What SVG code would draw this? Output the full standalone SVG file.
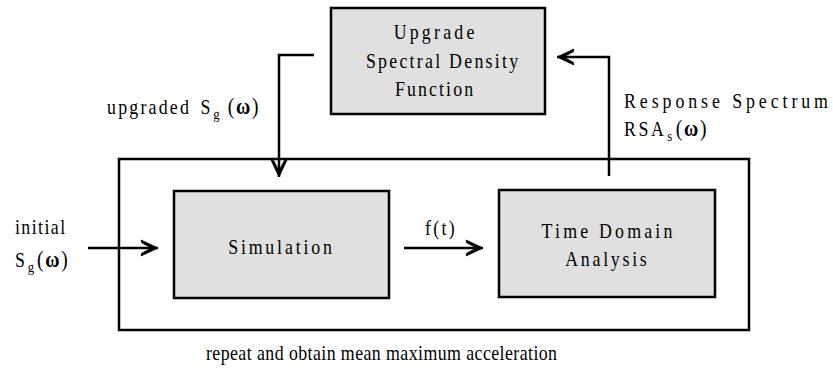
<svg xmlns="http://www.w3.org/2000/svg" width="833" height="371" viewBox="0 0 833 371">
<style>
  text { font-family: "Liberation Serif", "Times New Roman", serif; font-size: 21px; fill: #000; }
  .box { fill: #e0e0e0; stroke: #000; stroke-width: 2.5; }
  .frame { fill: none; stroke: #000; stroke-width: 2.5; }
  .conn { fill: none; stroke: #000; stroke-width: 2.5; }
  .sub { font-size: 15px; }
  .om { font-size: 23px; }
  .w { font-weight: bold; }
</style>
<defs>
  <marker id="arr" markerUnits="userSpaceOnUse" markerWidth="20" markerHeight="20" viewBox="-17 -9 19 18" refX="0" refY="0" orient="auto">
    <path d="M0,0 L-16,-7.5 L-15.5,-5 L-6,0 L-15.5,5 L-16,7.5 Z" fill="#000" stroke="#000" stroke-width="0.8" stroke-linejoin="miter"/>
  </marker>
</defs>
<rect id="loop" class="frame" x="119" y="159" width="630" height="171"/>
<g id="upgrade">
  <rect class="box" x="331" y="8" width="214" height="106"/>
  <text transform="translate(434,39) scale(0.85,1)" text-anchor="middle" textLength="95">Upgrade</text>
  <text transform="translate(442,68) scale(0.85,1)" text-anchor="middle" textLength="179">Spectral Density</text>
  <text transform="translate(434,96) scale(0.85,1)" text-anchor="middle" textLength="92">Function</text>
</g>
<g id="simulation">
  <rect class="box" x="174" y="191" width="215" height="107"/>
  <text transform="translate(280,254) scale(0.85,1)" text-anchor="middle" textLength="122">Simulation</text>
</g>
<g id="timedomain">
  <rect class="box" x="499" y="190" width="216" height="107"/>
  <text transform="translate(607,238) scale(0.85,1)" text-anchor="middle" textLength="154">Time Domain</text>
  <text transform="translate(606,266) scale(0.85,1)" text-anchor="middle" textLength="96">Analysis</text>
</g>
<g id="connectors">
  <path class="conn" d="M314,55 H279 V177" marker-end="url(#arr)"/>
  <path class="conn" d="M609,176 V57 H557" marker-end="url(#arr)"/>
  <path class="conn" d="M88,248 H158" marker-end="url(#arr)"/>
  <path class="conn" d="M404,248 H483" marker-end="url(#arr)"/>
</g>
<g id="labels">
  <text transform="translate(107,114) scale(0.85,1)"><tspan x="0" letter-spacing="2.6">upgraded</tspan><tspan x="110">S</tspan><tspan class="sub" x="125" dy="5">g</tspan><tspan class="om" x="142" dy="-5" letter-spacing="2">(<tspan class="w">ω</tspan>)</tspan></text>
  <text transform="translate(624,108) scale(0.85,1)" textLength="240">Response Spectrum</text>
  <text transform="translate(624,136) scale(0.85,1)"><tspan x="0" letter-spacing="3">RSA</tspan><tspan class="sub" x="51" dy="5">s</tspan><tspan class="om" x="61" dy="-5" letter-spacing="2">(<tspan class="w">ω</tspan>)</tspan></text>
  <text transform="translate(15,234) scale(0.85,1)" textLength="59">initial</text>
  <text transform="translate(15,267) scale(0.85,1)"><tspan x="0">S</tspan><tspan class="sub" x="15" dy="5">g</tspan><tspan class="om" x="26" dy="-5" letter-spacing="2">(<tspan class="w">ω</tspan>)</tspan></text>
  <text transform="translate(425,235) scale(0.85,1)" textLength="35">f(t)</text>
  <text transform="translate(206,360) scale(0.85,1)" textLength="413">repeat and obtain mean maximum acceleration</text>
</g>
</svg>
